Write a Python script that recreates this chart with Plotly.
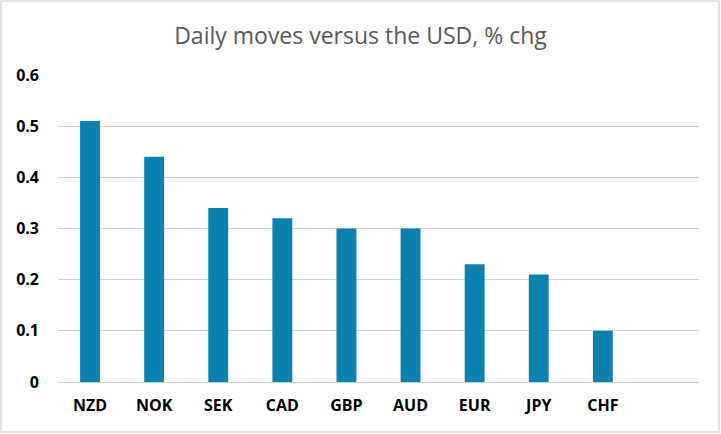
import plotly.graph_objects as go

# Daily % change versus the USD
currencies = ["NZD", "NOK", "SEK", "CAD", "GBP", "AUD", "EUR", "JPY", "CHF"]
moves = [0.51, 0.44, 0.34, 0.32, 0.30, 0.30, 0.23, 0.21, 0.10]
y_ticks = [0, 0.1, 0.2, 0.3, 0.4, 0.5, 0.6]
y_labels = ["0", "0.1", "0.2", "0.3", "0.4", "0.5", "0.6"]

W, H = 721, 434
ml, mr, mt, mb = 58, 22, 75, 52
pw, ph = W - ml - mr, H - mt - mb

fig = go.Figure(go.Bar(x=currencies, y=moves, marker_color="#0B81B0",
                       marker_line_width=0, width=0.31))

fig.update_layout(
    width=W, height=H,
    margin=dict(l=ml, r=mr, t=mt, b=mb),
    paper_bgcolor="white", plot_bgcolor="white",
    font=dict(family="Open Sans", color="black"),
    title=dict(text="Daily moves versus the USD, % chg", x=0.5, xanchor="center",
               y=1 - 36 / H, yanchor="middle",
               font=dict(family="Open Sans", size=23, color="#595959")),
    showlegend=False,
    bargap=0.69,
)
fig.update_xaxes(range=[-0.5, 9.5], showgrid=False, showline=False, zeroline=False,
                 ticks="", tickfont=dict(size=16, color="black", weight="bold"),
                 ticklabelstandoff=12)
fig.update_yaxes(range=[0, 0.6], tickvals=y_ticks, ticktext=y_labels,
                 showgrid=True, gridcolor="#D0D0D0", gridwidth=1.3,
                 zeroline=True, zerolinecolor="#D0D0D0", zerolinewidth=1.3,
                 showline=False, ticks="",
                 tickfont=dict(size=16, color="black", weight="bold"),
                 ticklabelstandoff=18)

# chart border
fig.add_shape(type="rect", xref="paper", yref="paper",
              x0=(1 - ml) / pw, x1=1 + (mr - 2) / pw,
              y0=-(mb - 2) / ph, y1=1 + (mt - 1) / ph,
              line=dict(color="#D9D9D9", width=1.5), fillcolor="rgba(0,0,0,0)")

fig.write_html("out.html", config={"displayModeBar": False},
               post_script="document.body.style.margin='0';")
